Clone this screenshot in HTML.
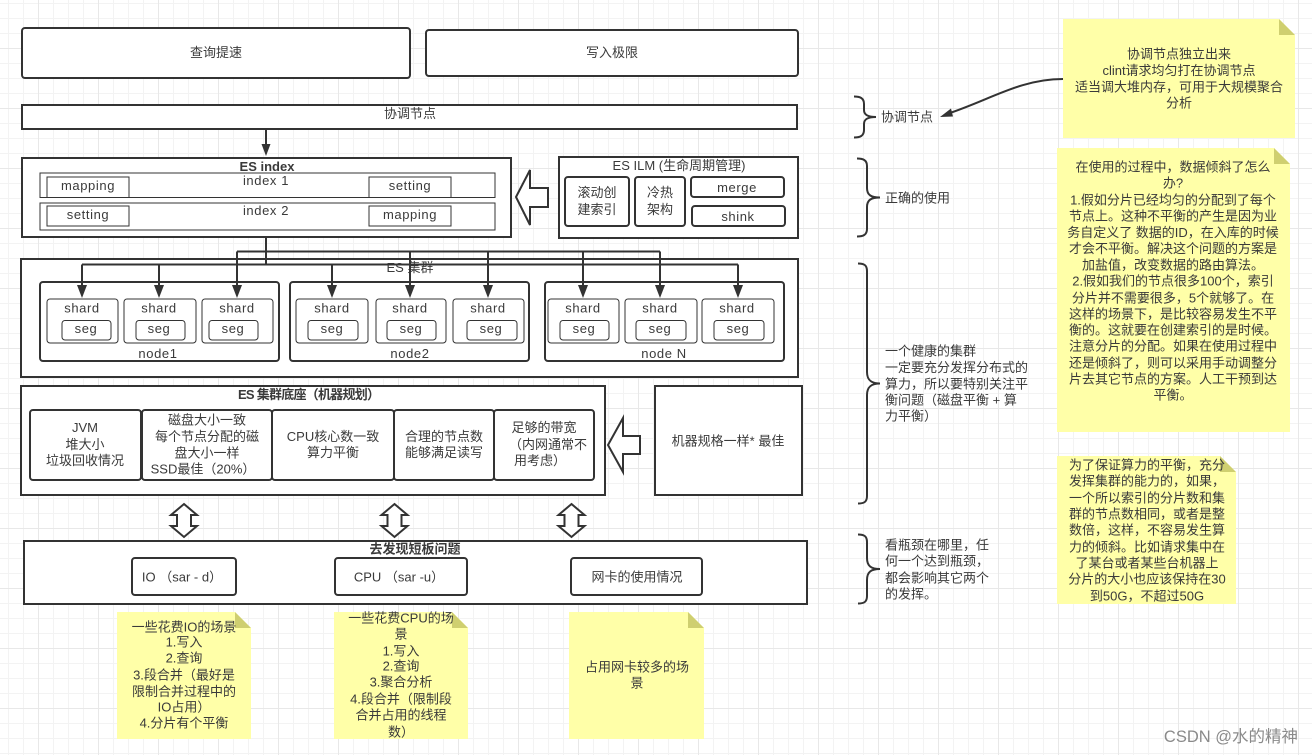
<!DOCTYPE html>
<html><head><meta charset="utf-8"><style>
html,body{margin:0;padding:0;background:#fff;width:1312px;height:755px;overflow:hidden}
svg{display:block}
text{font-family:"Liberation Sans","Noto Sans CJK SC",sans-serif;font-size:13px;fill:#3a3a3a;text-anchor:middle}
.l{text-anchor:start}.b{font-weight:bold}.s{letter-spacing:.6px}
.w{fill:#fff;stroke:#333;stroke-width:2}
.t{fill:#fff;stroke:#333;stroke-width:1}
.n{fill:#ffffa8}.f{fill:#cfcf70}
.c{fill:none;stroke:#333;stroke-width:2}
.h{fill:#333}
</style></head><body>
<svg width="1312" height="755" viewBox="0 0 1312 755" xmlns="http://www.w3.org/2000/svg">
<defs>
<pattern id="mi" x="8" y="3" width="15" height="15" patternUnits="userSpaceOnUse"><path d="M.5 0V15M0 .5H15" stroke="#f3f3f3" fill="none"/></pattern>
<pattern id="ma" x="38" y="48" width="60" height="60" patternUnits="userSpaceOnUse"><path d="M.5 0V60M0 .5H60" stroke="#e8e8e8" fill="none"/></pattern>
</defs>
<rect width="1312" height="755" fill="url(#mi)"/>
<rect width="1312" height="755" fill="url(#ma)"/>

<!-- top -->
<rect class="w" x="22" y="28" width="388" height="50" rx="3"/><text x="216" y="57">查询提速</text>
<rect class="w" x="426" y="30" width="372" height="46" rx="3"/><text x="612" y="57">写入极限</text>
<rect class="w" x="22" y="105" width="775" height="24"/><text x="410" y="118">协调节点</text>
<path class="c" d="M266 129V146"/><path class="h" d="M261.500 144H270.500L266 156Z"/>

<!-- ES index -->
<rect class="w" x="22" y="158" width="489" height="79"/>
<text class="b" x="267" y="171">ES index</text>
<rect class="t" x="40" y="173" width="455" height="24.500"/>
<rect class="t" x="40" y="203" width="455" height="27"/>
<text class="s" x="266" y="185">index 1</text><text class="s" x="266" y="215">index 2</text>
<rect class="t" x="47" y="177" width="82" height="20.500"/><text class="s" x="88" y="190">mapping</text>
<rect class="t" x="369" y="177" width="82" height="20.500"/><text class="s" x="410" y="190">setting</text>
<rect class="t" x="47" y="206" width="82" height="20"/><text class="s" x="88" y="219">setting</text>
<rect class="t" x="369" y="206" width="82" height="20"/><text class="s" x="410" y="219">mapping</text>
<path class="w" d="M516 197L530 170V188H548V207H530V225Z"/>

<!-- ILM -->
<rect class="w" x="559" y="157" width="239" height="81"/>
<text x="679" y="170">ES ILM (生命周期管理)</text>
<rect class="w" x="565" y="177" width="64" height="49" rx="3"/><text x="597" y="197">滚动创</text><text x="597" y="214">建索引</text>
<rect class="w" x="635" y="177" width="50" height="49" rx="3"/><text x="660" y="197">冷热</text><text x="660" y="214">架构</text>
<rect class="w" x="691" y="177" width="93" height="20" rx="3"/><text class="s" x="737" y="192">merge</text>
<rect class="w" x="692" y="206" width="93" height="20" rx="3"/><text class="s" x="738" y="221">shink</text>

<!-- cluster -->
<rect class="w" x="21" y="259" width="777" height="118"/>
<text x="410" y="272">ES 集群</text>
<rect class="w" x="40" y="282" width="239" height="79" rx="3"/>
<rect class="w" x="290" y="282" width="239" height="79" rx="3"/>
<rect class="w" x="545" y="282" width="239" height="79" rx="3"/>
<g>
<rect class="t" x="47" y="299" width="71" height="44" rx="3"/><rect class="t" x="62" y="320.500" width="49" height="19.500" rx="3"/><text class="s" x="82" y="312.500">shard</text><text class="s" x="86" y="333">seg</text>
<rect class="t" x="124" y="299" width="72" height="44" rx="3"/><rect class="t" x="136" y="320.500" width="49" height="19.500" rx="3"/><text class="s" x="159" y="312.500">shard</text><text class="s" x="159" y="333">seg</text>
<rect class="t" x="202" y="299" width="71" height="44" rx="3"/><rect class="t" x="209" y="320.500" width="49" height="19.500" rx="3"/><text class="s" x="237" y="312.500">shard</text><text class="s" x="233" y="333">seg</text>
<rect class="t" x="296" y="299" width="72" height="44" rx="3"/><rect class="t" x="308" y="320.500" width="50" height="19.500" rx="3"/><text class="s" x="332" y="312.500">shard</text><text class="s" x="332" y="333">seg</text>
<rect class="t" x="376" y="299" width="70" height="44" rx="3"/><rect class="t" x="387" y="320.500" width="49" height="19.500" rx="3"/><text class="s" x="410" y="312.500">shard</text><text class="s" x="411" y="333">seg</text>
<rect class="t" x="453" y="299" width="71" height="44" rx="3"/><rect class="t" x="467" y="320.500" width="50" height="19.500" rx="3"/><text class="s" x="488" y="312.500">shard</text><text class="s" x="491" y="333">seg</text>
<rect class="t" x="548" y="299" width="71" height="44" rx="3"/><rect class="t" x="560" y="320.500" width="49" height="19.500" rx="3"/><text class="s" x="583" y="312.500">shard</text><text class="s" x="584" y="333">seg</text>
<rect class="t" x="625" y="299" width="72" height="44" rx="3"/><rect class="t" x="636" y="320.500" width="50" height="19.500" rx="3"/><text class="s" x="660" y="312.500">shard</text><text class="s" x="660" y="333">seg</text>
<rect class="t" x="702" y="299" width="72" height="44" rx="3"/><rect class="t" x="714" y="320.500" width="50" height="19.500" rx="3"/><text class="s" x="737" y="312.500">shard</text><text class="s" x="738" y="333">seg</text>
</g>
<text class="s" x="158" y="358">node1</text><text class="s" x="410" y="358">node2</text><text class="s" x="664" y="358">node N</text>

<!-- connectors -->
<path class="c" d="M266 237V264M237 251.500H660M82 264.500H738"/>
<path class="c" d="M82 264.500V287M159 264.500V287M237 251.500V287M332 264.500V287M410 251.500V287M488 251.500V287M583 251.500V287M660 251.500V287M738 264.500V287"/>
<g class="h">
<path d="M77 285H87L82 298Z"/><path d="M154 285H164L159 298Z"/><path d="M232 285H242L237 298Z"/>
<path d="M327 285H337L332 298Z"/><path d="M405 285H415L410 298Z"/><path d="M483 285H493L488 298Z"/>
<path d="M578 285H588L583 298Z"/><path d="M655 285H665L660 298Z"/><path d="M733 285H743L738 298Z"/>
</g>

<!-- base -->
<rect class="w" x="21" y="386" width="584" height="109"/>
<text class="b" x="309" y="399" textLength="142" lengthAdjust="spacing">ES 集群底座（机器规划）</text>
<rect class="w" x="30" y="410" width="111" height="70" rx="3"/>
<text x="85" y="432">JVM</text><text x="85" y="449">堆大小</text><text x="85" y="465">垃圾回收情况</text>
<rect class="w" x="142" y="410" width="130" height="70" rx="3"/>
<text x="207" y="424.500">磁盘大小一致</text><text x="207" y="441">每个节点分配的磁</text><text x="207" y="457.500">盘大小一样</text><text x="203" y="473.500">SSD最佳（20%）</text>
<rect class="w" x="272" y="410" width="122" height="70" rx="3"/>
<text x="333" y="441">CPU核心数一致</text><text x="333" y="457">算力平衡</text>
<rect class="w" x="394" y="410" width="100" height="70" rx="3"/>
<text x="444" y="441">合理的节点数</text><text x="444" y="457">能够满足读写</text>
<rect class="w" x="494" y="410" width="100" height="70" rx="3"/>
<text x="544" y="432">足够的带宽</text><text x="548" y="449">（内网通常不</text><text x="540" y="465">用考虑）</text>
<path class="w" d="M608 445L623 418V436H640V454H623V472Z"/>
<rect class="w" x="655" y="386" width="147" height="109"/><text x="728" y="445.500">机器规格一样* 最佳</text>

<!-- double arrows -->
<path class="w" d="M184 504L197 515H191V526H197L184 537L171 526H177V515H171Z"/>
<path class="w" d="M394.500 504L407.500 515H401.500V526H407.500L394.500 537L381.500 526H387.500V515H381.500Z"/>
<path class="w" d="M571.500 504L584.500 515H578.500V526H584.500L571.500 537L558.500 526H564.500V515H558.500Z"/>

<!-- bottleneck -->
<rect class="w" x="24" y="541" width="783" height="63"/>
<text class="b" x="415" y="553.500">去发现短板问题</text>
<rect class="w" x="132" y="558" width="104" height="37" rx="3"/><text x="182" y="581.500">IO （sar - d）</text>
<rect class="w" x="335" y="558" width="132" height="37" rx="3"/><text x="399" y="581.500">CPU （sar -u）</text>
<rect class="w" x="571" y="558" width="131" height="37" rx="3"/><text x="637" y="581.500">网卡的使用情况</text>

<!-- bottom notes -->
<path class="n" d="M117 612H235L251 628V739H117Z"/><path class="f" d="M235 612L251 628H235Z"/>
<g>
<text x="184" y="631.500">一些花费IO的场景</text><text x="184" y="646.500">1.写入</text><text x="184" y="662.500">2.查询</text><text x="184" y="679.500">3.段合并（最好是</text><text x="184" y="696">限制合并过程中的</text><text x="184" y="711.500">IO占用）</text><text x="184" y="727.500">4.分片有个平衡</text>
</g>
<path class="n" d="M334 612H452L468 628V739H334Z"/><path class="f" d="M452 612L468 628H452Z"/>
<g>
<text x="401" y="622.500">一些花费CPU的场</text><text x="401" y="638.500">景</text><text x="401" y="655.500">1.写入</text><text x="401" y="670.500">2.查询</text><text x="401" y="686.500">3.聚合分析</text><text x="401" y="703.500">4.段合并（限制段</text><text x="401" y="719.500">合并占用的线程</text><text x="401" y="736.500">数）</text>
</g>
<path class="n" d="M569 612H688L704 628V739H569Z"/><path class="f" d="M688 612L704 628H688Z"/>
<text x="637" y="671.500">占用网卡较多的场</text><text x="637" y="687.500">景</text>

<!-- braces -->
<path class="c" d="M854 96.500C860 96.500 864 98 864 104V110C864 115 868 117 876 117C868 117 864 119 864 124V130C864 136 860 137.500 854 137.500"/>
<path class="c" d="M857 158.500C863 158.500 867 160 867 166V188C867 195 871 197.500 880 197.500C871 197.500 867 200 867 207V229C867 235 863 236.500 857 236.500"/>
<path class="c" d="M858 263.500C864 263.500 867 265 867 271V372C867 380 871 383.500 880 383.500C871 383.500 867 387 867 395V496C867 502 864 503.500 858 503.500"/>
<path class="c" d="M858 534.500C864 534.500 867 536 867 542V558C867 566 871 569 880 569C871 569 867 572 867 580V596C867 602 864 603.500 858 603.500"/>
<text class="l" x="881" y="121.500">协调节点</text>
<text class="l" x="885" y="202.500">正确的使用</text>
<g>
<text class="l" x="885" y="355.500">一个健康的集群</text><text class="l" x="885" y="372">一定要充分发挥分布式的</text><text class="l" x="885" y="388.500">算力，所以要特别关注平</text><text class="l" x="885" y="404.500">衡问题（磁盘平衡 + 算</text><text class="l" x="885" y="420.500">力平衡）</text>
</g>
<g>
<text class="l" x="885" y="549.500">看瓶颈在哪里，任</text><text class="l" x="885" y="565.500">何一个达到瓶颈，</text><text class="l" x="885" y="582.500">都会影响其它两个</text><text class="l" x="885" y="598.500">的发挥。</text>
</g>

<!-- right notes -->
<path class="n" d="M1063 19H1279L1295 35V138H1063Z"/><path class="f" d="M1279 19L1295 35H1279Z"/>
<text x="1179" y="58.500">协调节点独立出来</text><text x="1179" y="75">clint请求均匀打在协调节点</text><text x="1179" y="91.500">适当调大堆内存，可用于大规模聚合</text><text x="1179" y="107.500">分析</text>
<path class="c" d="M1063 79C1020 79 990 100 947 114"/><path class="h" d="M940 117L951 108.500L953 116.500Z"/>

<path class="n" d="M1057 148H1274L1290 164V432H1057Z"/><path class="f" d="M1274 148L1290 164H1274Z"/>
<g>
<text x="1173" y="171.500">在使用的过程中，数据倾斜了怎么</text><text x="1173" y="187.500">办?</text><text x="1173" y="204.500">1.假如分片已经均匀的分配到了每个</text><text x="1173" y="220.500">节点上。这种不平衡的产生是因为业</text><text x="1173" y="237">务自定义了 数据的ID，在入库的时候</text><text x="1173" y="253">才会不平衡。解决这个问题的方案是</text><text x="1173" y="269.500">加盐值，改变数据的路由算法。</text>
<text x="1173" y="285.500">2.假如我们的节点很多100个，索引</text><text x="1173" y="302.500">分片并不需要很多，5个就够了。在</text><text x="1173" y="318.500">这样的场景下，是比较容易发生不平</text><text x="1173" y="334.500">衡的。这就要在创建索引的是时候。</text><text x="1173" y="350.500">注意分片的分配。如果在使用过程中</text><text x="1173" y="367.500">还是倾斜了，则可以采用手动调整分</text><text x="1173" y="383.500">片去其它节点的方案。人工干预到达</text><text x="1173" y="399.500">平衡。</text>
</g>

<path class="n" d="M1057 456H1220L1236 472V604H1057Z"/><path class="f" d="M1220 456L1236 472H1220Z"/>
<g>
<text x="1147" y="469.500">为了保证算力的平衡，充分</text><text x="1147" y="485.500">发挥集群的能力的，如果，</text><text x="1147" y="502.500">一个所以索引的分片数和集</text><text x="1147" y="518.500">群的节点数相同，或者是整</text><text x="1147" y="534.500">数倍，这样，不容易发生算</text><text x="1147" y="551.500">力的倾斜。比如请求集中在</text><text x="1147" y="567.500">了某台或者某些台机器上</text><text x="1147" y="583.500">分片的大小也应该保持在30</text><text x="1147" y="600.500">到50G，不超过50G</text>
</g>

<text x="1298" y="742" style="font-size:16.5px;fill:#8a8a8a;text-anchor:end">CSDN @水的精神</text>
</svg>
</body></html>
